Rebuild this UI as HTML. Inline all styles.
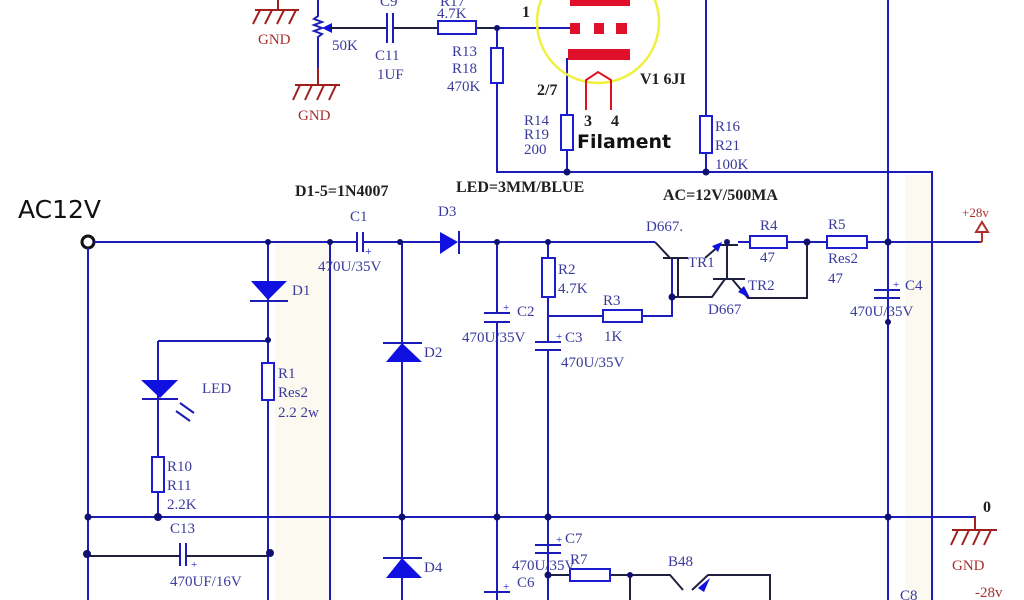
<!DOCTYPE html>
<html><head><meta charset="utf-8"><style>
html,body{margin:0;padding:0;background:#fff;width:1024px;height:600px;overflow:hidden}
svg{display:block}
.w{stroke:#1c1cb8;stroke-width:2;fill:none}
.k{stroke:#202040;stroke-width:2;fill:none}
.r{stroke:#1c1cd0;stroke-width:2;fill:#fff}
.t{font-family:"Liberation Serif",serif;font-size:15px;fill:#3a3a9c}
.b{font-family:"Liberation Serif",serif;font-size:16px;font-weight:bold;fill:#202020}
.g{font-family:"Liberation Serif",serif;font-size:15px;fill:#a83030}
.gs{stroke:#a02020;stroke-width:2;fill:none}
.f{fill:#1010e0}
.n{fill:#101070}
</style></head><body>
<svg width="1024" height="600" viewBox="0 0 1024 600" xmlns="http://www.w3.org/2000/svg">
<rect x="275" y="240" width="60" height="360" fill="#fbf9f0"/>
<rect x="905" y="175" width="30" height="425" fill="#fbf9f0"/>
<g class="gs"><path d="M278 0V10M255 10H299M260 10L253 24M272 10L265 24M284 10L277 24M296 10L289 24"/>
<path d="M318 68V85M295 85H340M300 85L293 100M312 85L305 100M324 85L317 100M336 85L329 100"/></g>
<text class="g" x="258" y="44">GND</text><text class="g" x="298" y="120">GND</text>
<path class="w" d="M318 0V16L314 19L322 22L314 25L322 28L314 31L322 34L318 37V68"/>
<path class="f" d="M322 28L332 23V33Z"/>
<path class="k" d="M330 28H387M393 28H438M476 28H497"/>
<path class="w" d="M387 13V43M393 13V43M497 28H571M497 28V48M497 83V172H932V600M567 58V115M567 150V172M706 0V115M706 153V172M888 0V600"/>
<rect class="r" x="438" y="21" width="38" height="13"/>
<rect class="r" x="491" y="48" width="12" height="35"/>
<rect class="r" x="561" y="115" width="12" height="35"/>
<rect class="r" x="700" y="116" width="12" height="37"/>
<circle cx="598" cy="22" r="61" fill="none" stroke="#f0f040" stroke-width="2.5"/>
<g fill="#e0102a"><rect x="570" y="0" width="60" height="6"/><rect x="570" y="23" width="10" height="11"/><rect x="594" y="23" width="10" height="11"/><rect x="616" y="23" width="11" height="11"/><rect x="568" y="49" width="62" height="11"/></g>
<path d="M586 110V80L598 72L611 80V110" stroke="#e01020" stroke-width="2" fill="none"/>
<g class="n"><circle cx="497" cy="28" r="3"/><circle cx="567" cy="172" r="3.5"/><circle cx="706" cy="172" r="3.5"/></g>
<text class="t" x="380" y="6">C9</text><text class="t" x="375" y="60">C11</text><text class="t" x="377" y="79">1UF</text>
<text class="t" x="332" y="50">50K</text>
<text class="t" x="440" y="6">R17</text><text class="t" x="437" y="18">4.7K</text>
<text class="t" x="452" y="56">R13</text><text class="t" x="452" y="73">R18</text><text class="t" x="447" y="91">470K</text>
<text class="b" x="522" y="17">1</text><text class="b" x="537" y="95">2/7</text>
<text class="b" x="584" y="126">3</text><text class="b" x="611" y="126">4</text>
<text x="577" y="148" style="font-family:'DejaVu Sans',sans-serif;font-size:19px;font-weight:bold;fill:#111">Filament</text>
<text class="b" x="640" y="84">V1 6JI</text>
<text class="t" x="524" y="125">R14</text><text class="t" x="524" y="139">R19</text><text class="t" x="524" y="154">200</text>
<text class="t" x="715" y="131">R16</text><text class="t" x="715" y="150">R21</text><text class="t" x="715" y="169">100K</text>
<text class="b" x="295" y="196">D1-5=1N4007</text>
<text class="b" x="456" y="192">LED=3MM/BLUE</text>
<text class="b" x="663" y="200">AC=12V/500MA</text>
<text x="18" y="218" style="font-family:'DejaVu Sans',sans-serif;font-size:25px;fill:#111">AC12V</text>
<circle cx="88" cy="242" r="6" fill="none" stroke="#111" stroke-width="3"/>
<path class="w" d="M94 242H357M363 242H440M458 242H615M615 242H655M738 242H750M787 242H827M867 242H980"/>
<path class="w" d="M357 232V252M363 232V252"/><text class="t" x="365" y="255" style="fill:#1c1cd0;font-size:12px">+</text>
<path class="f" d="M440 232L458 242L440 254Z"/><path class="w" d="M459 231V254"/>
<path class="w" d="M980 242H982M982 242V232M976 232L982 222L988 232Z" style="stroke:#b03030"/>
<text class="g" x="962" y="217" style="font-size:13px">+28v</text>
<path class="w" d="M88 248V600M268 242V340M268 340V363M268 400V600M158 341H268M158 341V457M158 492V517M330 242V600M402 242V600M497 242V313M497 322V600M548 242V258M548 297V342M548 350V600M548 316H603M642 316H672V258"/>
<rect class="r" x="262" y="363" width="12" height="37"/>
<rect class="r" x="152" y="457" width="12" height="35"/>
<rect class="r" x="542" y="258" width="13" height="39"/>
<rect class="r" x="603" y="310" width="39" height="12"/>
<rect class="r" x="750" y="236" width="37" height="12"/>
<rect class="r" x="827" y="236" width="40" height="12"/>
<path class="f" d="M251 281H287L268 300Z"/><path class="w" d="M250 301H288"/>
<path class="f" d="M141 380H178L160 398Z"/><path class="w" d="M142 399H178"/>
<path class="w" d="M180 403L194 413M176 411L190 421" stroke-width="1.5"/>
<path class="f" d="M386 362H422L402 343Z"/><path class="w" d="M383 343H422"/>
<path class="f" d="M386 578H422L402 558Z"/><path class="w" d="M383 558H422"/>
<path class="w" d="M484 313H510M484 322H510M535 342H561M535 350H561M874 290H900M874 298H900M535 545H561M535 553H561M484 592H510M180 543V566M186 543V566"/>
<path class="k" d="M88 556H180M186 556H268"/>
<text class="t" x="503" y="311" style="font-size:11px;fill:#1c1cd0">+</text>
<text class="t" x="556" y="340" style="font-size:11px;fill:#1c1cd0">+</text>
<text class="t" x="893" y="288" style="font-size:11px;fill:#1c1cd0">+</text>
<text class="t" x="556" y="543" style="font-size:11px;fill:#1c1cd0">+</text>
<text class="t" x="503" y="590" style="font-size:11px;fill:#1c1cd0">+</text>
<text class="t" x="191" y="568" style="font-size:11px;fill:#1c1cd0">+</text>
<path class="k" d="M655 242L670 258M663 258H688M678 258V297M705 258L720 245H738"/>
<path class="f" d="M722 242L712 246L718 252Z"/>
<path class="k" d="M727 242V279M713 279H745M672 297H712L725 279M732 279L748 298H807V242"/>
<path class="f" d="M750 298L738 292L744 286Z"/>
<path class="k" d="M548 575H570M610 575H670L683 590M692 590L708 575H770V600M630 575V600"/>
<rect class="r" x="570" y="569" width="40" height="12"/>
<path class="f" d="M698 588L710 578L704 592Z"/>
<path class="w" d="M88 517H975V530"/>
<g class="gs"><path d="M975 517V530M952 530H997M958 530L951 545M969 530L962 545M980 530L973 545M991 530L984 545"/></g>
<text class="g" x="952" y="570">GND</text><text class="g" x="975" y="597">-28v</text>
<text class="b" x="983" y="512">0</text>
<g class="n"><circle cx="268" cy="242" r="3"/><circle cx="330" cy="242" r="3"/><circle cx="400" cy="242" r="3"/><circle cx="497" cy="242" r="3"/><circle cx="548" cy="242" r="3"/><circle cx="727" cy="242" r="3"/><circle cx="807" cy="242" r="3.5"/><circle cx="888" cy="242" r="3.5"/><circle cx="268" cy="340" r="3"/><circle cx="672" cy="297" r="3.5"/>
<circle cx="88" cy="517" r="3.5"/><circle cx="158" cy="517" r="4"/><circle cx="402" cy="517" r="3.5"/><circle cx="497" cy="517" r="3.5"/><circle cx="548" cy="517" r="3.5"/><circle cx="888" cy="517" r="3.5"/><circle cx="888" cy="322" r="3"/>
<circle cx="87" cy="554" r="4"/><circle cx="270" cy="553" r="4"/><circle cx="548" cy="575" r="3.5"/><circle cx="630" cy="575" r="3"/></g>
<text class="t" x="350" y="221">C1</text><text class="t" x="318" y="271">470U/35V</text>
<text class="t" x="438" y="216">D3</text>
<text class="t" x="292" y="295">D1</text><text class="t" x="424" y="357">D2</text><text class="t" x="424" y="572">D4</text>
<text class="t" x="202" y="393">LED</text>
<text class="t" x="278" y="378">R1</text><text class="t" x="278" y="397">Res2</text><text class="t" x="278" y="417">2.2  2w</text>
<text class="t" x="167" y="471">R10</text><text class="t" x="167" y="490">R11</text><text class="t" x="167" y="509">2.2K</text>
<text class="t" x="170" y="533">C13</text><text class="t" x="170" y="586">470UF/16V</text>
<text class="t" x="517" y="316">C2</text><text class="t" x="462" y="342">470U/35V</text>
<text class="t" x="565" y="342">C3</text><text class="t" x="561" y="367">470U/35V</text>
<text class="t" x="558" y="274">R2</text><text class="t" x="558" y="293">4.7K</text>
<text class="t" x="603" y="305">R3</text><text class="t" x="604" y="341">1K</text>
<text class="t" x="646" y="231">D667.</text><text class="t" x="688" y="267">TR1</text>
<text class="t" x="748" y="290">TR2</text><text class="t" x="708" y="314">D667</text>
<text class="t" x="760" y="230">R4</text><text class="t" x="760" y="262">47</text>
<text class="t" x="828" y="229">R5</text><text class="t" x="828" y="263">Res2</text><text class="t" x="828" y="283">47</text>
<text class="t" x="905" y="290">C4</text><text class="t" x="850" y="316">470U/35V</text>
<text class="t" x="565" y="543">C7</text><text class="t" x="512" y="570">470U/35V</text><text class="t" x="570" y="564">R7</text>
<text class="t" x="517" y="587">C6</text>
<text class="t" x="668" y="566">B48</text>
<text class="t" x="900" y="600">C8</text>
</svg>
</body></html>
